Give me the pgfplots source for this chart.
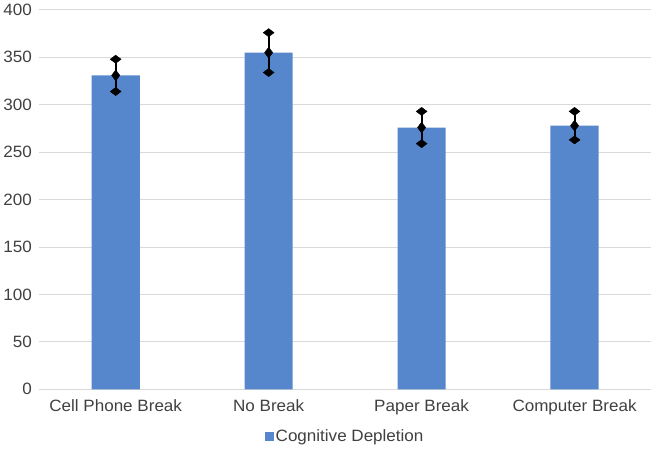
\documentclass[border=0pt]{standalone}
\usepackage{pgfplots}
\pgfplotsset{compat=1.18}
\usepackage{fontspec}
\setmainfont[FakeStretch=1.04]{Liberation Sans}
\definecolor{barblue}{RGB}{86,135,205}
\definecolor{ticktext}{RGB}{64,64,64}
\definecolor{gridgray}{RGB}{217,217,217}

\begin{document}
\begin{tikzpicture}
  \begin{axis}[
    scale only axis,
    width=616pt,
    height=382pt,
    xmin=-0.5, xmax=3.5,
    ymin=0, ymax=400,
    ytick={0,50,...,400},
    xtick={0,1,2,3},
    xticklabels={Cell Phone Break, No Break, Paper Break, Computer Break},
    ymajorgrids,
    grid style={gridgray, line width=1pt},
    axis x line*=bottom,
    axis y line*=left,
    x axis line style={gridgray, line width=1pt, -},
    y axis line style={draw=none},
    major tick length=0pt,
    tick label style={font=\fontsize{16.5}{18}\selectfont, text=ticktext},
    yticklabel style={xshift=-4pt},
    xticklabel style={yshift=-7pt},
    /pgf/number format/assume math mode=true,
    legend style={at={(0.5,-0.095)}, anchor=north, draw=none,
      font=\fontsize{16.5}{18}\selectfont, text=ticktext},
    legend image code/.code={\fill[barblue] (2pt,-4.5pt) rectangle (11pt,4.5pt);},
    clip=false,
  ]
    \addplot[ybar, bar width=0.315, fill=barblue, draw=none]
      coordinates {(0,331) (1,355) (2,276) (3,278)};
    \addlegendentry{Cognitive Depletion}
    \addplot[only marks, mark=diamond*, mark size=5.5pt, black,
      error bars/.cd, y dir=both, y explicit,
      error bar style={line width=2pt, black},
      error mark=diamond*, error mark options={mark size=5.5pt, black}]
      coordinates {
        (0,331) +- (0,17)
        (1,355) +- (0,21)
        (2,276) +- (0,17)
        (3,278) +- (0,15)
      };
    \path (rel axis cs:0,0) ++(-35pt,-64pt);
    \path (rel axis cs:1,1) ++(5pt,10pt);
  \end{axis}
\end{tikzpicture}
\end{document}
